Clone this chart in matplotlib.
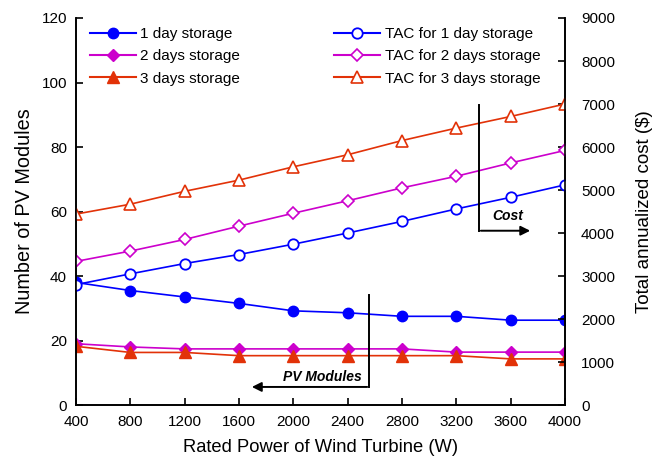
import matplotlib
matplotlib.use('Agg')
import matplotlib.pyplot as plt
from matplotlib.lines import Line2D

plt.rcParams['font.family'] = ['Liberation Sans', 'DejaVu Sans']

# rated power of the wind turbine (W)
power = [400, 800, 1200, 1600, 2000, 2400, 2800, 3200, 3600, 4000]

# number of PV modules
pv_1day = [38, 35.5, 33.5, 31.5, 29.2, 28.6, 27.5, 27.5, 26.3, 26.3]
pv_2days = [19, 18, 17.4, 17.4, 17.4, 17.4, 17.4, 16.4, 16.4, 16.4]
pv_3days = [18.2, 16.3, 16.3, 15.3, 15.3, 15.3, 15.3, 15.3, 14.3, 14.3]

# total annualized cost ($)
tac_1day = [2800, 3050, 3290, 3500, 3740, 4000, 4270, 4560, 4830, 5120]
tac_2days = [3340, 3580, 3850, 4160, 4460, 4750, 5050, 5320, 5630, 5920]
tac_3days = [4440, 4670, 4970, 5230, 5540, 5820, 6150, 6440, 6710, 7000]

blue = '#0000ff'
mag = '#cc00cc'
red = '#e23208'

fig = plt.figure(figsize=(6.6, 4.58), dpi=100)
ax = fig.add_axes([0.1152, 0.1157, 0.7409, 0.845])
ax2 = ax.twinx()

ax.plot(power, pv_1day, '-o', color=blue, mfc=blue, mec=blue, ms=7.5, lw=1.2)
ax.plot(power, pv_2days, '-D', color=mag, mfc=mag, mec=mag, ms=6.5, lw=1.2)
ax.plot(power, pv_3days, '-^', color=red, mfc=red, mec=red, ms=8.5, lw=1.2)

ax2.plot(power, tac_1day, '-o', color=blue, mfc='white', mec=blue, ms=7.5, mew=1.3, lw=1.2)
ax2.plot(power, tac_2days, '-D', color=mag, mfc='white', mec=mag, ms=6.5, mew=1.2, lw=1.2)
ax2.plot(power, tac_3days, '-^', color=red, mfc='white', mec=red, ms=9, mew=1.2, lw=1.2)

ax.set_xlim(400, 4000)
ax.set_ylim(0, 120)
ax2.set_ylim(0, 9000)
ax.set_xticks(power)
ax.set_yticks(range(0, 121, 20))
ax2.set_yticks(range(0, 9001, 1000))

for a in (ax, ax2):
    a.spines['top'].set_visible(False)
    for s in a.spines.values():
        s.set_linewidth(1.2)
    a.tick_params(direction='in', length=5, width=1.2, labelsize=11)
ax.tick_params(axis='x', pad=7.5)
ax.tick_params(axis='y', pad=6.5)
ax2.tick_params(axis='y', pad=11.5)

ax.set_xlabel('Rated Power of Wind Turbine (W)', fontsize=13.2, labelpad=7)
ax.set_ylabel('Number of PV Modules', fontsize=14.3, labelpad=5.5)
ax2.set_ylabel('Total annualized cost ($)', fontsize=13.5, labelpad=15)

# arrows pointing to each axis
ax2.plot([3367, 3367], [6977, 4053], color='black', lw=1.4)
ax2.annotate('', xy=(3764, 4053), xytext=(3360, 4053),
             arrowprops=dict(arrowstyle='-|>', color='black', lw=1.4, mutation_scale=14))
ax2.text(3580, 4400, 'Cost', fontsize=10, fontweight='bold', fontstyle='italic', ha='center', va='center')

ax.plot([2557, 2557], [34, 5.6], color='black', lw=1.4)
ax.annotate('', xy=(1674, 5.6), xytext=(2564, 5.6),
            arrowprops=dict(arrowstyle='-|>', color='black', lw=1.4, mutation_scale=14))
ax.text(2210, 8.7, 'PV Modules', fontsize=10, fontweight='bold', fontstyle='italic', ha='center', va='center')

h1 = [Line2D([], [], color=blue, marker='o', ms=7.5, mfc=blue),
      Line2D([], [], color=mag, marker='D', ms=6.5, mfc=mag),
      Line2D([], [], color=red, marker='^', ms=8.5, mfc=red)]
h2 = [Line2D([], [], color=blue, marker='o', ms=7.5, mfc='white', mew=1.3),
      Line2D([], [], color=mag, marker='D', ms=6.5, mfc='white', mew=1.2),
      Line2D([], [], color=red, marker='^', ms=9, mfc='white', mew=1.2)]
ax.legend(h1, ['1 day storage', '2 days storage', '3 days storage'],
          loc='upper left', bbox_to_anchor=(0.0, 1.012), frameon=False, fontsize=11,
          handlelength=3, handletextpad=0.3, labelspacing=0.54)
ax2.legend(h2, ['TAC for 1 day storage', 'TAC for 2 days storage', 'TAC for 3 days storage'],
           loc='upper left', bbox_to_anchor=(0.5, 1.012), frameon=False, fontsize=11,
           handlelength=3, handletextpad=0.3, labelspacing=0.54)

fig.savefig('out.png', dpi=100)
